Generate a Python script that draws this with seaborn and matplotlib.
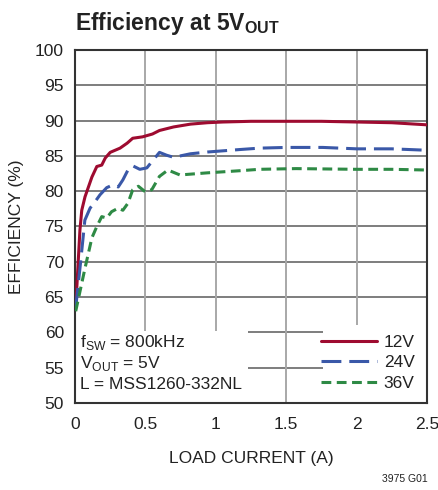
import matplotlib
matplotlib.use("Agg")
import matplotlib.pyplot as plt
import matplotlib.patches as mpatches
from matplotlib import font_manager
import pandas as pd
import seaborn as sns

# ── Data ─────────────────────────────────────────────────────────────────────
x_12v = [0.005, 0.035, 0.048, 0.071, 0.12, 0.155, 0.19, 0.215, 0.25, 0.32, 0.37,
         0.41, 0.48, 0.55, 0.60, 0.70, 0.82, 0.94, 1.05, 1.25, 1.5, 1.75, 2.0, 2.25, 2.5]
y_12v = [63.5, 74.5, 77.3, 79.2, 82.0, 83.5, 83.7, 84.7, 85.5, 86.1, 86.8,
         87.5, 87.7, 88.1, 88.6, 89.1, 89.5, 89.7, 89.8, 89.9, 89.9, 89.9, 89.8, 89.7, 89.4]

x_24v = [0.005, 0.04, 0.07, 0.107, 0.142, 0.178, 0.225, 0.27, 0.307, 0.34, 0.376,
         0.41, 0.46, 0.51, 0.555, 0.60, 0.65, 0.70, 0.82, 0.94, 1.17, 1.31, 1.5,
         1.76, 2.0, 2.25, 2.5]
y_24v = [63.5, 70.0, 75.9, 77.6, 78.5, 79.5, 80.5, 80.9, 80.6, 81.6, 83.0,
         83.6, 83.1, 83.3, 84.4, 85.5, 85.1, 84.8, 85.3, 85.55, 85.9, 86.1, 86.2,
         86.2, 86.0, 86.0, 85.8]

x_36v = [0.005, 0.07, 0.12, 0.155, 0.19, 0.225, 0.26, 0.307, 0.34, 0.376, 0.41,
         0.45, 0.50, 0.545, 0.60, 0.66, 0.745, 0.94, 1.17, 1.31, 1.57, 2.0, 2.25, 2.5]
y_36v = [63.0, 69.0, 73.4, 75.0, 76.4, 76.2, 77.1, 77.6, 77.3, 78.3, 80.2,
         80.7, 79.9, 80.2, 82.1, 83.0, 82.3, 82.6, 82.9, 83.1, 83.2, 83.1, 83.1, 83.0]

series_names = ["12V", "24V", "36V"]
x_ticks = [0, 0.5, 1, 1.5, 2, 2.5]
x_tick_labels = ["0", "0.5", "1", "1.5", "2", "2.5"]
y_ticks = [50, 55, 60, 65, 70, 75, 80, 85, 90, 95, 100]
note_lines = [r"f$_{\mathrm{SW}}$ = 800kHz", r"V$_{\mathrm{OUT}}$ = 5V", "L = MSS1260-332NL"]

df = pd.concat([
    pd.DataFrame({"current": x_12v, "eff": y_12v, "vin": "12V"}),
    pd.DataFrame({"current": x_24v, "eff": y_24v, "vin": "24V"}),
    pd.DataFrame({"current": x_36v, "eff": y_36v, "vin": "36V"}),
])

# ── Style ────────────────────────────────────────────────────────────────────
sns.set_theme(style="white")
installed = {f.name for f in font_manager.fontManager.ttflist}
FONT = "DejaVu Sans"
for cand in ["Liberation Sans Narrow", "DejaVu Sans Condensed", "Liberation Sans"]:
    if cand in installed:
        FONT = cand
        break
plt.rcParams["font.family"] = [FONT, "DejaVu Sans"]
plt.rcParams["mathtext.fontset"] = "custom"
plt.rcParams["mathtext.rm"] = FONT
plt.rcParams["mathtext.bf"] = FONT + ":bold"

COLORS = {"12V": "#9E0B30", "24V": "#3A58A8", "36V": "#2E8A45"}
DASHES = {"12V": "", "24V": (6.5, 2.6), "36V": (3.2, 1.8)}
TEXT_C = "#222222"

fig = plt.figure(figsize=(4.38, 4.90), dpi=100)
ax = fig.add_axes([75 / 438, 87 / 490, 352 / 438, 353 / 490])

sns.lineplot(data=df, x="current", y="eff", hue="vin", style="vin",
             palette=COLORS, dashes=DASHES, sort=False, estimator=None,
             linewidth=2.2, legend=False, ax=ax, zorder=3)

ax.set_xlim(0, 2.5)
ax.set_ylim(50, 100)
ax.set_xticks(x_ticks)
ax.set_xticklabels(x_tick_labels)
ax.set_yticks(y_ticks)
ax.tick_params(axis="both", labelsize=12.5, colors=TEXT_C, direction="in",
               length=4, width=1)
ax.tick_params(axis="x", pad=10)
ax.tick_params(axis="y", pad=8)

for y in y_ticks[1:-1]:
    ax.axhline(y, color="#5a5a5a", linewidth=1.1, zorder=1)
for x in x_ticks[1:-1]:
    ax.axvline(x, color="#a8a8a8", linewidth=1.4, zorder=1)
for sp in ax.spines.values():
    sp.set_color("#333333")
    sp.set_linewidth(1.5)

# white panels behind the note and the legend
ax.add_patch(mpatches.Rectangle((0, 50), 1.23, 10.2, facecolor="white",
                                edgecolor="none", zorder=2))
ax.add_patch(mpatches.Rectangle((1.76, 50), 0.74, 11.0, facecolor="white",
                                edgecolor="none", zorder=2))

for i, line in enumerate(note_lines):
    ax.text(0.035, 58.6 - i * 3.0, line, fontsize=12.5, color=TEXT_C,
            va="center", ha="left", zorder=4)

handles = [plt.Line2D([], [], color=COLORS[n], linewidth=2.2,
                      dashes=DASHES[n] if DASHES[n] else (None, None))
           for n in series_names]
leg = ax.legend(handles, series_names, loc="lower right", bbox_to_anchor=(1.0, 0.0),
                frameon=False, fontsize=12.5, handlelength=3.2, handletextpad=0.4,
                labelspacing=0.3, borderaxespad=0.3)
for t in leg.get_texts():
    t.set_color(TEXT_C)

ax.set_xlabel("LOAD CURRENT (A)", fontsize=12.5, color=TEXT_C, labelpad=14)
ax.set_ylabel("EFFICIENCY (%)", fontsize=12.5, color=TEXT_C, labelpad=8)

fig.text(75 / 438, 1 - 30 / 490, r"Efficiency at 5V$_{\mathbf{OUT}}$",
         fontsize=16.5, fontweight="bold", color=TEXT_C, ha="left", va="baseline")
fig.text(428 / 438, 1 - 482 / 490, "3975 G01", fontsize=7.5, color=TEXT_C,
         ha="right", va="baseline")

fig.savefig("out.png", dpi=100)
